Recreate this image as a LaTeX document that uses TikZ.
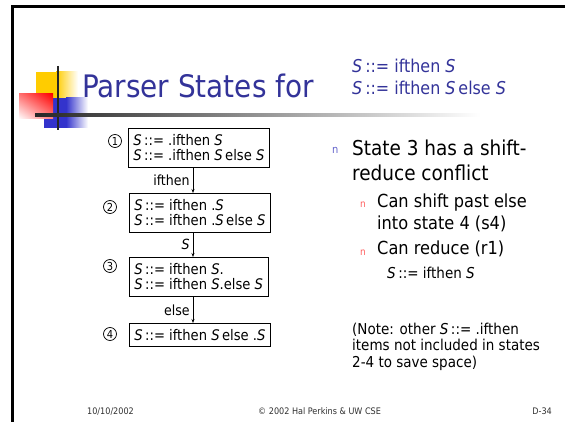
\documentclass[tikz,border=0pt]{standalone}
\usepackage{fontspec}
\setmainfont{DejaVu Sans Condensed}
\usepackage{xcolor,tikz}
\usetikzlibrary{arrows.meta,shadings}
\definecolor{slideBlue}{HTML}{333399}
\definecolor{logoYellow}{HTML}{FFCC00}
\definecolor{logoBlue}{HTML}{3333CC}
\definecolor{logoRed}{HTML}{FF0000}
\definecolor{bulletBlue}{HTML}{6666CC}
\definecolor{bulletRed}{HTML}{FF6060}
\definecolor{footGrey}{HTML}{303030}
\newcommand{\gS}{\textit{S}}
\newcommand{\fsz}[2]{\fontsize{#1}{#2}\selectfont}

\tikzset{
  stateBox/.style={draw, line width=0.8pt, anchor=north west, align=left,
    inner xsep=5pt, inner ysep=6pt, font=\fsz{14.6}{15.5}},
  stateNum/.style={circle, draw, line width=0.7pt, inner sep=0pt,
    minimum size=13pt, font=\fsz{11}{11}},
  edgeLbl/.style={font=\fsz{14}{15}, anchor=east, inner sep=0pt},
  txtBlock/.style={anchor=north west, align=left, inner sep=0pt},
  footTxt/.style={font=\fsz{9}{9}, text=footGrey, inner sep=0pt},
  bulletMark/.style={anchor=base west, inner sep=0pt}
}

\begin{document}
\begin{tikzpicture}[x=1pt, y=-1pt]
\useasboundingbox (0,0) rectangle (565,422);

% --- SLIDE FRAME ---
\draw[line width=3pt] (12.5,430) -- (12.5,6.5) -- (570,6.5);

% --- LOGO ---
\fill[logoYellow] (36,72) rectangle (56,98);
\shade[left color=logoYellow, right color=white] (56,72) rectangle (78,98);
\fill[logoBlue] (44,98) rectangle (66,128);
\shade[left color=logoBlue, right color=white] (66,98) rectangle (88,128);
\shade[upper right=logoRed, upper left=logoRed!55, lower right=logoRed!50,
  lower left=white] (19,94) rectangle (53,119);
\draw[line width=2pt, black!85] (58,66) -- (58,130);
\shade[left color=black!85, right color=white] (35,113.5) rectangle (480,116.5);

% --- TITLE ---
\node[font=\fsz{31}{31}, text=slideBlue, anchor=base west, inner sep=0pt]
  (title) at (82,98) {Parser States for};
\node[txtBlock, font=\fsz{17.7}{22}, text=slideBlue]
  (grammar) at (352,58.5)
  {\gS\,::= ifthen \gS\\\gS\,::= ifthen \gS\,else \gS};

% --- STATES ---
\node[stateBox] (s1) at (128,128)
  {\gS\,::= .ifthen \gS\\\gS\,::= .ifthen \gS\,else \gS};
\node[stateBox] (s2) at (129,193)
  {\gS\,::= ifthen .\gS\\\gS\,::= ifthen .\gS\,else \gS};
\node[stateBox] (s3) at (129,257)
  {\gS\,::= ifthen \gS.\\\gS\,::= ifthen \gS.else \gS};
\node[stateBox] (s4) at (129,323)
  {\gS\,::= ifthen \gS\,else .\gS};

% state numbers
\foreach \n/\xc/\yc in {1/115/141, 2/110/207, 3/110/266, 4/110/334}
  \node[stateNum] (n\n) at (\xc,\yc) {\n};

% --- TRANSITIONS ---
\coordinate (ax) at (193,0);
\foreach \a/\b/\lab in {s1/s2/ifthen, s2/s3/{\gS}, s3/s4/else}
  \draw[line width=0.8pt, -{Stealth[length=4pt,width=3pt]}]
    (\a.south -| ax) -- node[edgeLbl, xshift=-3pt] (l\a) {\lab} (\b.north -| ax);

% --- RIGHT TEXT ---
\node[bulletMark, font=\fsz{11}{11}, text=bulletBlue] (m1) at (332,154) {n};
\node[txtBlock, font=\fsz{20.5}{25}] (t1) at (352,140)
  {State 3 has a shift-\\reduce conflict};
\node[bulletMark, font=\fsz{10}{10}, text=bulletRed] (m2) at (360,208) {n};
\node[txtBlock, font=\fsz{18}{22}] (t2) at (377,193.5)
  {Can shift past else\\into state 4 (s4)};
\node[bulletMark, font=\fsz{10}{10}, text=bulletRed] (m3) at (360,255) {n};
\node[txtBlock, font=\fsz{18}{22}] (t3) at (377,240.5) {Can reduce (r1)};
\node[txtBlock, font=\fsz{15}{15}] (t4) at (387,266.5) {\gS\,::= ifthen \gS};
\node[txtBlock, font=\fsz{15}{16.5}] (note) at (352,322.5)
  {(Note: other \gS\,::= .ifthen\\items not included in states\\2-4 to save space)};

% --- FOOTER ---
\node[footTxt, anchor=base west] (date) at (87,414) {10/10/2002};
\node[footTxt, anchor=base west] (copy) at (258,414) {© 2002 Hal Perkins \& UW CSE};
\node[footTxt, anchor=base east] (page) at (552,414) {D-34};

\end{tikzpicture}
\end{document}
